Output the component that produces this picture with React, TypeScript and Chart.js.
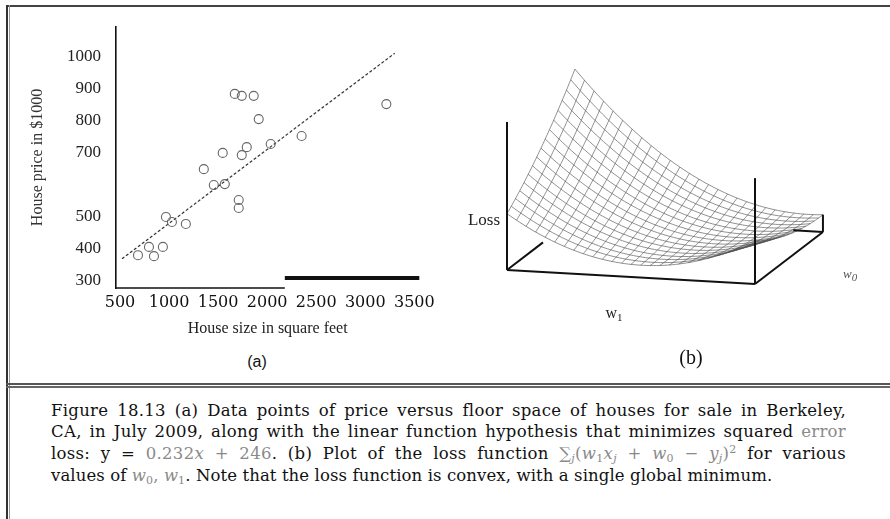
import React, { useEffect, useRef } from 'react';
import { Chart, registerables } from 'chart.js';
Chart.register(...registerables);

// ---------- Panel (a) data ----------
const HOUSE_SIZE = [683, 795, 846, 937, 968, 1029, 1171, 1354, 1456, 1568, 1547, 1710, 1710, 1670, 1741, 1863, 1914, 1792, 1741, 2036, 2351, 3215];
const HOUSE_PRICE = [378, 404, 375, 404, 498, 482, 476, 648, 598, 601, 699, 551, 526, 884, 878, 878, 805, 717, 692, 727, 752, 852];
const X_TICKS = [500, 1000, 1500, 2000, 2500, 3000, 3500];
const Y_TICKS = [300, 400, 500, 700, 800, 900, 1000];
const FIT_SLOPE = 0.232;
const FIT_INTERCEPT = 246;
const FIT_X = [520, 3300];
const X_RANGE = [459, 3551];
const Y_RANGE = [275, 1094];
const AXIS_BREAK_X = 2180;
const OFFSET_BAR_Y = 306;

// ---------- Panel (b) data ----------
const W1_RANGE = [0, 0.5];
const W0_RANGE = [200, -150];
const MESH_W1 = 26;
const MESH_W0 = 16;
const VIEW_U = [1, -0.0565];
const VIEW_V = [0.274, 0.21];
const Z_FLOOR = 0.04;
const Z_SPAN = 0.56;
const LOSS_AXIS_TOP = 0.597;
const FRONT_RIGHT_TOP = 0.427;
const VIEW_X = [-0.2702, 1.5444];
const VIEW_Y = [-0.4556, 1.0887];

function lossAt(w0: number, w1: number) {
  let s = 0;
  for (let i = 0; i < HOUSE_SIZE.length; i++) {
    const r = w1 * HOUSE_SIZE[i] + w0 - HOUSE_PRICE[i];
    s += r * r;
  }
  return s;
}
const w1At = (u: number) => W1_RANGE[0] + u * (W1_RANGE[1] - W1_RANGE[0]);
const w0At = (v: number) => W0_RANGE[0] + v * (W0_RANGE[1] - W0_RANGE[0]);
const L_MAX = Math.max(
  lossAt(w0At(0), w1At(0)), lossAt(w0At(1), w1At(0)),
  lossAt(w0At(0), w1At(1)), lossAt(w0At(1), w1At(1))
);
const surfH = (u: number, v: number) => Z_FLOOR + Z_SPAN * lossAt(w0At(v), w1At(u)) / L_MAX;
const proj = (u: number, v: number, h: number) => ({
  x: u * VIEW_U[0] + v * VIEW_V[0],
  y: u * VIEW_U[1] + v * VIEW_V[1] + h,
});

function buildSurface() {
  const sets: any[] = [];
  const line = (pts: any[], color: string, width: number) => ({
    data: pts, showLine: true, pointRadius: 0, borderColor: color, borderWidth: width, fill: false,
  });
  const box = '#111';
  sets.push(line([proj(0, 0, 0), proj(0, 0, LOSS_AXIS_TOP)], box, 2));
  sets.push(line([proj(0, 0, 0), proj(1, 0, 0)], box, 2));
  sets.push(line([proj(1, 0, 0), proj(1, 0, FRONT_RIGHT_TOP)], box, 2));
  sets.push(line([proj(1, 0, 0), proj(1, 1, 0)], box, 2));
  sets.push(line([proj(1, 1, 0), proj(1, 1, surfH(1, 1))], box, 2));
  sets.push(line([proj(0, 0, 0), proj(0, 0.53, 0)], box, 2));
  sets.push(line([proj(0.88, 1, 0), proj(1, 1, 0)], box, 2));
  const mesh = 'rgba(80,80,80,0.8)';
  const subV = MESH_W0 * 4;
  const subU = MESH_W1 * 3;
  for (let i = 0; i <= MESH_W1; i++) {
    const u = i / MESH_W1;
    const pts = [];
    for (let k = 0; k <= subV; k++) { const v = k / subV; pts.push(proj(u, v, surfH(u, v))); }
    sets.push(line(pts, mesh, 0.8));
  }
  for (let j = 0; j <= MESH_W0; j++) {
    const v = j / MESH_W0;
    const pts = [];
    for (let k = 0; k <= subU; k++) { const u = k / subU; pts.push(proj(u, v, surfH(u, v))); }
    sets.push(line(pts, mesh, 0.8));
  }
  return sets;
}

const axisPlugin = {
  id: 'brokenAxis',
  afterDatasetsDraw(chart: any) {
    const { ctx, scales: { x, y }, chartArea } = chart;
    ctx.save();
    ctx.strokeStyle = '#111';
    ctx.lineWidth = 1.5;
    ctx.beginPath();
    ctx.moveTo(chartArea.left, chartArea.bottom);
    ctx.lineTo(x.getPixelForValue(AXIS_BREAK_X), chartArea.bottom);
    ctx.stroke();
    ctx.lineWidth = 4;
    ctx.beginPath();
    const yb = y.getPixelForValue(OFFSET_BAR_Y);
    ctx.moveTo(x.getPixelForValue(AXIS_BREAK_X), yb);
    ctx.lineTo(chartArea.right, yb);
    ctx.stroke();
    ctx.restore();
  },
};

export default function App() {
  const refA = useRef<HTMLCanvasElement>(null);
  const refB = useRef<HTMLCanvasElement>(null);

  useEffect(() => {
    const a = new Chart(refA.current as HTMLCanvasElement, {
      type: 'scatter',
      data: {
        datasets: [
          {
            data: HOUSE_SIZE.map((x, i) => ({ x, y: HOUSE_PRICE[i] })),
            pointRadius: 4.5,
            pointBorderWidth: 1.1,
            borderColor: '#666',
            backgroundColor: 'rgba(0,0,0,0)',
            showLine: false,
          } as any,
          {
            data: FIT_X.map((x) => ({ x, y: FIT_SLOPE * x + FIT_INTERCEPT })),
            showLine: true,
            pointRadius: 0,
            borderDash: [3, 2],
            borderColor: '#333',
            borderWidth: 1.2,
          } as any,
        ],
      },
      options: {
        animation: false,
        responsive: false,
        maintainAspectRatio: false,
        layout: { padding: { left: 28, right: 20, top: 27, bottom: 0 } },
        plugins: { legend: { display: false }, tooltip: { enabled: false } },
        scales: {
          x: {
            type: 'linear',
            min: X_RANGE[0],
            max: X_RANGE[1],
            grid: { display: false, drawTicks: false },
            border: { display: false },
            afterBuildTicks: (s: any) => { s.ticks = X_TICKS.map((v) => ({ value: v })); },
            afterFit: (s: any) => { s.height = 50; },
            ticks: {
              autoSkip: false, maxRotation: 0, minRotation: 0, padding: 5, color: '#111',
              font: { family: 'DejaVu Serif', size: 16 },
              callback: (v: any) => String(v),
            },
            title: {
              display: true, text: 'House size in square feet', color: '#222',
              font: { family: 'Liberation Serif', size: 16 }, padding: { top: 0, bottom: 0 },
            },
          },
          y: {
            type: 'linear',
            min: Y_RANGE[0],
            max: Y_RANGE[1],
            grid: { display: false, drawTicks: false },
            border: { display: true, color: '#111', width: 1.6 },
            afterBuildTicks: (s: any) => { s.ticks = Y_TICKS.map((v) => ({ value: v })); },
            afterFit: (s: any) => { s.width = 88; },
            ticks: {
              autoSkip: false, padding: 15, color: '#222',
              font: { family: 'Liberation Serif', size: 17 },
              callback: (v: any) => String(v),
            },
            title: {
              display: true, text: 'House price in $1000', color: '#333',
              font: { family: 'Liberation Serif', size: 16 }, padding: { top: 0, bottom: 0 },
            },
          },
        },
      } as any,
      plugins: [axisPlugin],
    } as any);

    const b = new Chart(refB.current as HTMLCanvasElement, {
      type: 'scatter',
      data: { datasets: buildSurface() },
      options: {
        animation: false,
        responsive: false,
        maintainAspectRatio: false,
        layout: { padding: 0 },
        plugins: { legend: { display: false }, tooltip: { enabled: false } },
        elements: { point: { radius: 0 } },
        scales: {
          x: { type: 'linear', display: false, min: VIEW_X[0], max: VIEW_X[1] },
          y: { type: 'linear', display: false, min: VIEW_Y[0], max: VIEW_Y[1] },
        },
      } as any,
    } as any);

    return () => { a.destroy(); b.destroy(); };
  }, []);

  const abs = (s: any) => ({ position: 'absolute' as const, ...s });
  const gray = { color: '#8a8a8a' };
  const sub = { fontSize: '11px', verticalAlign: '-3px', lineHeight: 0 };
  const capLine = {
    left: 51, width: 795, height: 22, lineHeight: '22px', fontFamily: '"DejaVu Serif", serif',
    fontSize: '16.5px', letterSpacing: '0.3px', color: '#111', textAlign: 'justify' as const,
    textAlignLast: 'justify' as const, whiteSpace: 'nowrap' as const,
  };

  return (
    <div style={{ position: 'fixed', left: 0, top: 0, width: 890, height: 519, background: '#fff', overflow: 'hidden' }}>
      {/* frame lines */}
      <div style={abs({ left: 6, top: 5, width: 884, height: 2, background: '#444' })} />
      <div style={abs({ left: 6, top: 5, width: 1.5, height: 514, background: '#333' })} />
      <div style={abs({ left: 8.5, top: 5, width: 1, height: 514, background: '#999' })} />
      <div style={abs({ left: 6, top: 383, width: 884, height: 1.5, background: '#555' })} />
      <div style={abs({ left: 6, top: 386, width: 884, height: 1.5, background: '#666' })} />

      <canvas ref={refA} width={440} height={338} style={abs({ left: 0, top: 0, width: 440, height: 338 })} />
      <canvas ref={refB} width={450} height={383} style={abs({ left: 440, top: 0, width: 450, height: 383 })} />

      {/* panel labels */}
      <div style={abs({ left: 217, top: 352, width: 80, textAlign: 'center', fontFamily: '"Liberation Sans", sans-serif', fontSize: '16px', lineHeight: '20px', color: '#111' })}>(a)</div>
      <div style={abs({ left: 651, top: 345, width: 80, textAlign: 'center', fontFamily: '"Liberation Serif", serif', fontSize: '20px', lineHeight: '24px', color: '#111' })}>(b)</div>
      <div style={abs({ left: 400, top: 210, width: 100, textAlign: 'right', fontFamily: '"Liberation Serif", serif', fontSize: '17px', lineHeight: '20px', color: '#222' })}>Loss</div>
      <div style={abs({ left: 594, top: 303, width: 40, textAlign: 'center', fontFamily: '"Liberation Serif", serif', fontSize: '16px', lineHeight: '20px', color: '#222' })}>w<span style={sub}>1</span></div>
      <div style={abs({ left: 843, top: 265, width: 40, fontFamily: '"Liberation Serif", serif', fontStyle: 'italic', fontSize: '13px', lineHeight: '18px', color: '#555' })}>w<span style={sub}>0</span></div>

      {/* caption */}
      <div style={abs({ ...capLine, top: 400 })}>
        Figure 18.13 (a) Data points of price versus floor space of houses for sale in Berkeley,
      </div>
      <div style={abs({ ...capLine, top: 421 })}>
        CA, in July 2009, along with the linear function hypothesis that minimizes squared <span style={gray}>error</span>
      </div>
      <div style={abs({ ...capLine, top: 443 })}>
        loss: y = <span style={gray}>0.232<i>x</i> + 246</span>. (b) Plot of the loss function <span style={gray}>∑<span style={sub}><i>j</i></span>(<i>w</i><span style={sub}>1</span><i>x</i><span style={sub}><i>j</i></span> + <i>w</i><span style={sub}>0</span> − <i>y</i><span style={sub}><i>j</i></span>)<sup style={{ fontSize: '11px', lineHeight: 0 }}>2</sup></span> for various
      </div>
      <div style={abs({ ...capLine, top: 465, width: 760, letterSpacing: '0.1px', textAlign: 'left', textAlignLast: 'left' })}>
        values of <span style={gray}><i>w</i><span style={sub}>0</span>, <i>w</i><span style={sub}>1</span></span>. Note that the loss function is convex, with a single global minimum.
      </div>
    </div>
  );
}
